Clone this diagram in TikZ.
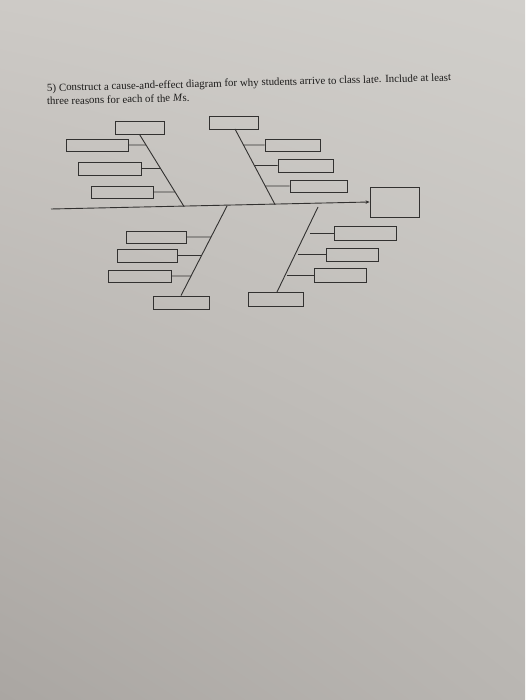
\documentclass[tikz,border=0pt]{standalone}
\usepackage{fontspec}
\setmainfont{Liberation Serif}
\usetikzlibrary{arrows.meta,shadings}
\definecolor{paperUL}{RGB}{205,202,198}
\definecolor{paperUR}{RGB}{209,207,203}
\definecolor{paperLL}{RGB}{170,166,162}
\definecolor{paperLR}{RGB}{185,182,178}
\definecolor{ink}{RGB}{50,49,48}
\definecolor{printink}{RGB}{30,29,28}
\tikzset{
  box/.style={draw=ink, line width=0.9pt, inner sep=0pt, rectangle},
  bone/.style={draw=ink, line width=0.9pt},
  question/.style={text=printink, font=\fontsize{10.9}{13}\selectfont, inner sep=0pt, anchor=base west, rotate=1.5}
}
\begin{document}
\begin{tikzpicture}[x=1pt,y=-1pt]
\shade[upper left=paperUL, upper right=paperUR, lower left=paperLL, lower right=paperLR] (0,0) rectangle (525,700);
\useasboundingbox (0,0) rectangle (525,700);

% question text
\node[question] (q1) at (47,91.5) {5) Construct a cause-and-effect diagram for why students arrive to class late. Include at least};
\node[question] (q2) at (47,105) {three reasons for each of the \textit{M}s.};

% spine
\coordinate (s0) at (51,209);
\node[box, minimum width=49pt, minimum height=30pt] (effect) at (394.5,202) {};
\draw[bone, -{Stealth[length=4pt,width=3.5pt]}] (s0) -- (effect.west);

% junctions on spine
\coordinate (j1) at (184,206.5);
\coordinate (j2) at (275,204.5);
\coordinate (j3) at (227,206);
\coordinate (j4) at (318,207);

% top-left bone
\node[box, minimum width=49pt, minimum height=13pt] (tl0) at (139.5,127.5) {};
\node[box, minimum width=62pt, minimum height=12pt] (tl1) at (97,145) {};
\node[box, minimum width=63pt, minimum height=13pt] (tl2) at (109.5,168.5) {};
\node[box, minimum width=62pt, minimum height=12pt] (tl3) at (122,192) {};
\draw[bone] (tl0.south) -- (j1);
\draw[bone] (tl1.east) -- (intersection of tl0.south--j1 and tl1.east--tl1.west);
\draw[bone] (tl2.east) -- (intersection of tl0.south--j1 and tl2.east--tl2.west);
\draw[bone] (tl3.east) -- (intersection of tl0.south--j1 and tl3.east--tl3.west);

% top-right bone
\node[box, minimum width=49pt, minimum height=13pt] (tr0) at (233.5,122.5) {};
\node[box, minimum width=55pt, minimum height=12pt] (tr1) at (292.5,145) {};
\node[box, minimum width=55pt, minimum height=13pt] (tr2) at (305.5,165.5) {};
\node[box, minimum width=57pt, minimum height=12pt] (tr3) at (318.5,186) {};
\coordinate (tr0b) at (235,129);
\draw[bone] (tr0b) -- (j2);
\draw[bone] (tr1.west) -- (intersection of tr0b--j2 and tr1.east--tr1.west);
\draw[bone] (tr2.west) -- (intersection of tr0b--j2 and tr2.east--tr2.west);
\draw[bone] (tr3.west) -- (intersection of tr0b--j2 and tr3.east--tr3.west);

% bottom-left bone
\node[box, minimum width=56pt, minimum height=13pt] (bl0) at (181,302.5) {};
\node[box, minimum width=60pt, minimum height=12pt] (bl1) at (156,237) {};
\node[box, minimum width=60pt, minimum height=13pt] (bl2) at (147,255.5) {};
\node[box, minimum width=63pt, minimum height=12pt] (bl3) at (139.5,276) {};
\draw[bone] (j3) -- (bl0.north);
\draw[bone] (bl1.east) -- (intersection of j3--bl0.north and bl1.east--bl1.west);
\draw[bone] (bl2.east) -- (intersection of j3--bl0.north and bl2.east--bl2.west);
\draw[bone] (bl3.east) -- (intersection of j3--bl0.north and bl3.east--bl3.west);

% bottom-right bone
\node[box, minimum width=55pt, minimum height=14pt] (br0) at (275.5,299) {};
\node[box, minimum width=62pt, minimum height=14pt] (br1) at (365,233) {};
\node[box, minimum width=52pt, minimum height=13pt] (br2) at (352,254.5) {};
\node[box, minimum width=52pt, minimum height=14pt] (br3) at (340,275) {};
\coordinate (br0t) at (277,292);
\draw[bone] (j4) -- (br0t);
\coordinate (c1) at (310,233);
\coordinate (c2) at (298,254.5);
\coordinate (c3) at (287,275);
\draw[bone] (c1) -- (br1.west);
\draw[bone] (c2) -- (br2.west);
\draw[bone] (c3) -- (br3.west);
\end{tikzpicture}
\end{document}
